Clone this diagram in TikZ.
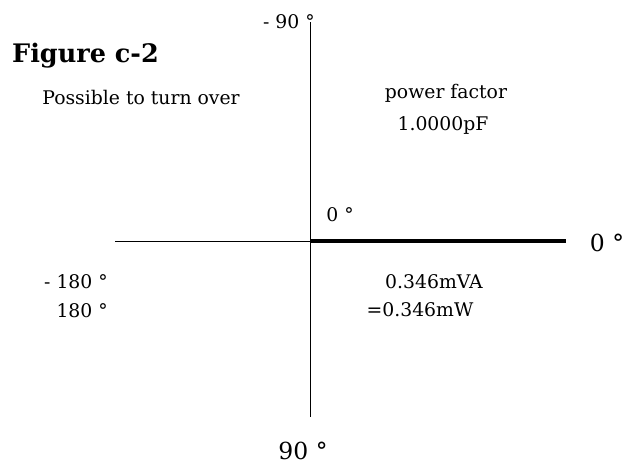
\documentclass[tikz,border=0pt]{standalone}
\usepackage{fontspec}
\setmainfont{DejaVu Serif}
\usetikzlibrary{positioning}

\begin{document}
\begin{tikzpicture}[x=1pt,y=-1pt,
		lbl/.style={inner sep=0pt,font=\fontsize{18.8}{21}\selectfont},
		biglbl/.style={inner sep=0pt,font=\fontsize{23.5}{26}\selectfont}]
		\useasboundingbox (0,0) rectangle (628,466);
		\coordinate (top) at (310,22);
		\coordinate (bottom) at (310,417);
		\coordinate (origin) at (310,241);
		\coordinate (left) at (115,241);
		\coordinate (right) at (566,241);
		\draw[line width=0.8pt] (top) -- (bottom);
		\draw[line width=0.8pt] (left) -- (origin);
		\draw[line width=3.5pt] (origin) -- (right);
		\node[inner sep=0pt,anchor=base west,font=\fontsize{25.5}{28}\selectfont\bfseries] (title) at (12,62) {Figure c-2};
		\node[lbl,anchor=east] (m90) at (315,22) {- 90 °};
		\node[lbl] (turn) at (141,97) {Possible to turn over};
		\node[lbl] (pf) at (446,93) {power factor};
		\node[lbl] (pfval) at (443,125) {1.0000pF};
		\node[lbl] (zero) at (340,215) {0 °};
		\node[biglbl] (zeroright) at (607,243) {0 °};
		\node[lbl] (va) at (434,282) {0.346mVA};
		\node[lbl] (watt) at (420,310) {=0.346mW};
		\node[lbl,anchor=east] (m180) at (108,282) {- 180 °};
		\node[lbl,anchor=east] (p180) at (108,311) {180 °};
		\node[biglbl] (ninety) at (303,451) {90 °};
	\end{tikzpicture}
\end{document}
